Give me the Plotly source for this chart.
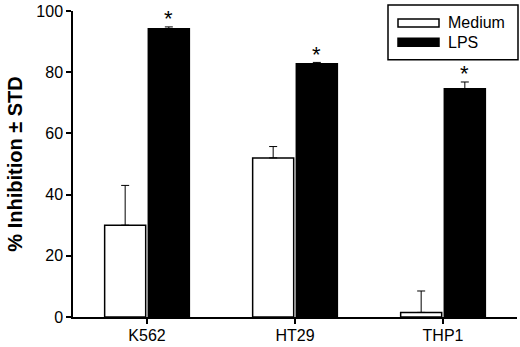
import plotly.graph_objects as go

categories = ["K562", "HT29", "THP1"]
medium_vals = [30, 52, 1.5]
medium_err = [13, 3.7, 7]
lps_vals = [94.2, 82.8, 74.6]
lps_err = [0.6, 0.4, 2.2]
significant = [True, True, True]
y_ticks = [0, 20, 40, 60, 80, 100]

FONT = "Liberation Sans, Arial, sans-serif"

fig = go.Figure()
fig.add_trace(go.Bar(
    name="Medium", x=categories, y=medium_vals,
    marker=dict(color="white", line=dict(color="black", width=1.5)),
    error_y=dict(type="data", symmetric=False, array=medium_err,
                 arrayminus=[0] * len(medium_err), color="black",
                 thickness=1, width=4),
    showlegend=False,
))
fig.add_trace(go.Bar(
    name="LPS", x=categories, y=lps_vals,
    marker=dict(color="black", line=dict(color="black", width=1.5)),
    error_y=dict(type="data", symmetric=False, array=lps_err,
                 arrayminus=[0] * len(lps_err), color="black",
                 thickness=1, width=4),
    showlegend=False,
))

bargap = 0.41
groupgap = 0.06
slot = (1 - bargap) / 2
for i, (v, e, s) in enumerate(zip(lps_vals, lps_err, significant)):
    if s:
        fig.add_annotation(
            x=i + slot / 2, y=v + e, xref="x", yref="y",
            text="*", showarrow=False, yanchor="middle", yshift=8,
            font=dict(family=FONT, size=22, color="black"),
        )

# custom legend (wide rectangle swatches like the original)
L = 73; R = 517; T = 11; B = 319; W = 520; H = 347
def px(xp):
    return (xp - L) / (R - L)
def py(yp):
    return (B - yp) / (B - T)

fig.add_shape(type="rect", xref="paper", yref="paper",
              x0=px(388), x1=px(518), y0=py(60), y1=py(5),
              line=dict(color="black", width=1.5), fillcolor="white")
legend_items = [("Medium", "white", 23), ("LPS", "black", 42.5)]
for name, col, yc in legend_items:
    fig.add_shape(type="rect", xref="paper", yref="paper",
                  x0=px(398), x1=px(439), y0=py(yc + 4), y1=py(yc - 4),
                  line=dict(color="black", width=1.5), fillcolor=col)
    fig.add_annotation(x=px(446), y=py(yc), xref="paper", yref="paper",
                       text=name, showarrow=False, xanchor="left",
                       yanchor="middle",
                       font=dict(family=FONT, size=16, color="black"))

fig.update_layout(
    width=W, height=H,
    margin=dict(l=L, r=W - R, t=T, b=H - B),
    paper_bgcolor="white", plot_bgcolor="white",
    barmode="group", bargap=bargap, bargroupgap=groupgap,
    font=dict(family=FONT, size=15, color="black"),
)
fig.update_xaxes(
    range=[-0.5, 2.5], showline=True, linecolor="black", linewidth=1.5,
    ticks="outside", ticklen=5, tickcolor="black", tickwidth=1.5,
    tickfont=dict(family=FONT, size=16), showgrid=False, zeroline=False,
    ticklabelstandoff=-2,
)
fig.update_yaxes(
    range=[0, 100], tickvals=y_ticks, showline=True, linecolor="black",
    linewidth=1.5, ticks="outside", ticklen=5, tickcolor="black",
    tickwidth=1.5, tickfont=dict(family=FONT, size=16), showgrid=False,
    zeroline=False,
    title=dict(text="<b>% Inhibition ± STD</b>",
               font=dict(family=FONT, size=20), standoff=8),
)

fig.write_html("out.html",
               config={"displayModeBar": False},
               post_script="document.body.style.margin='0';")
